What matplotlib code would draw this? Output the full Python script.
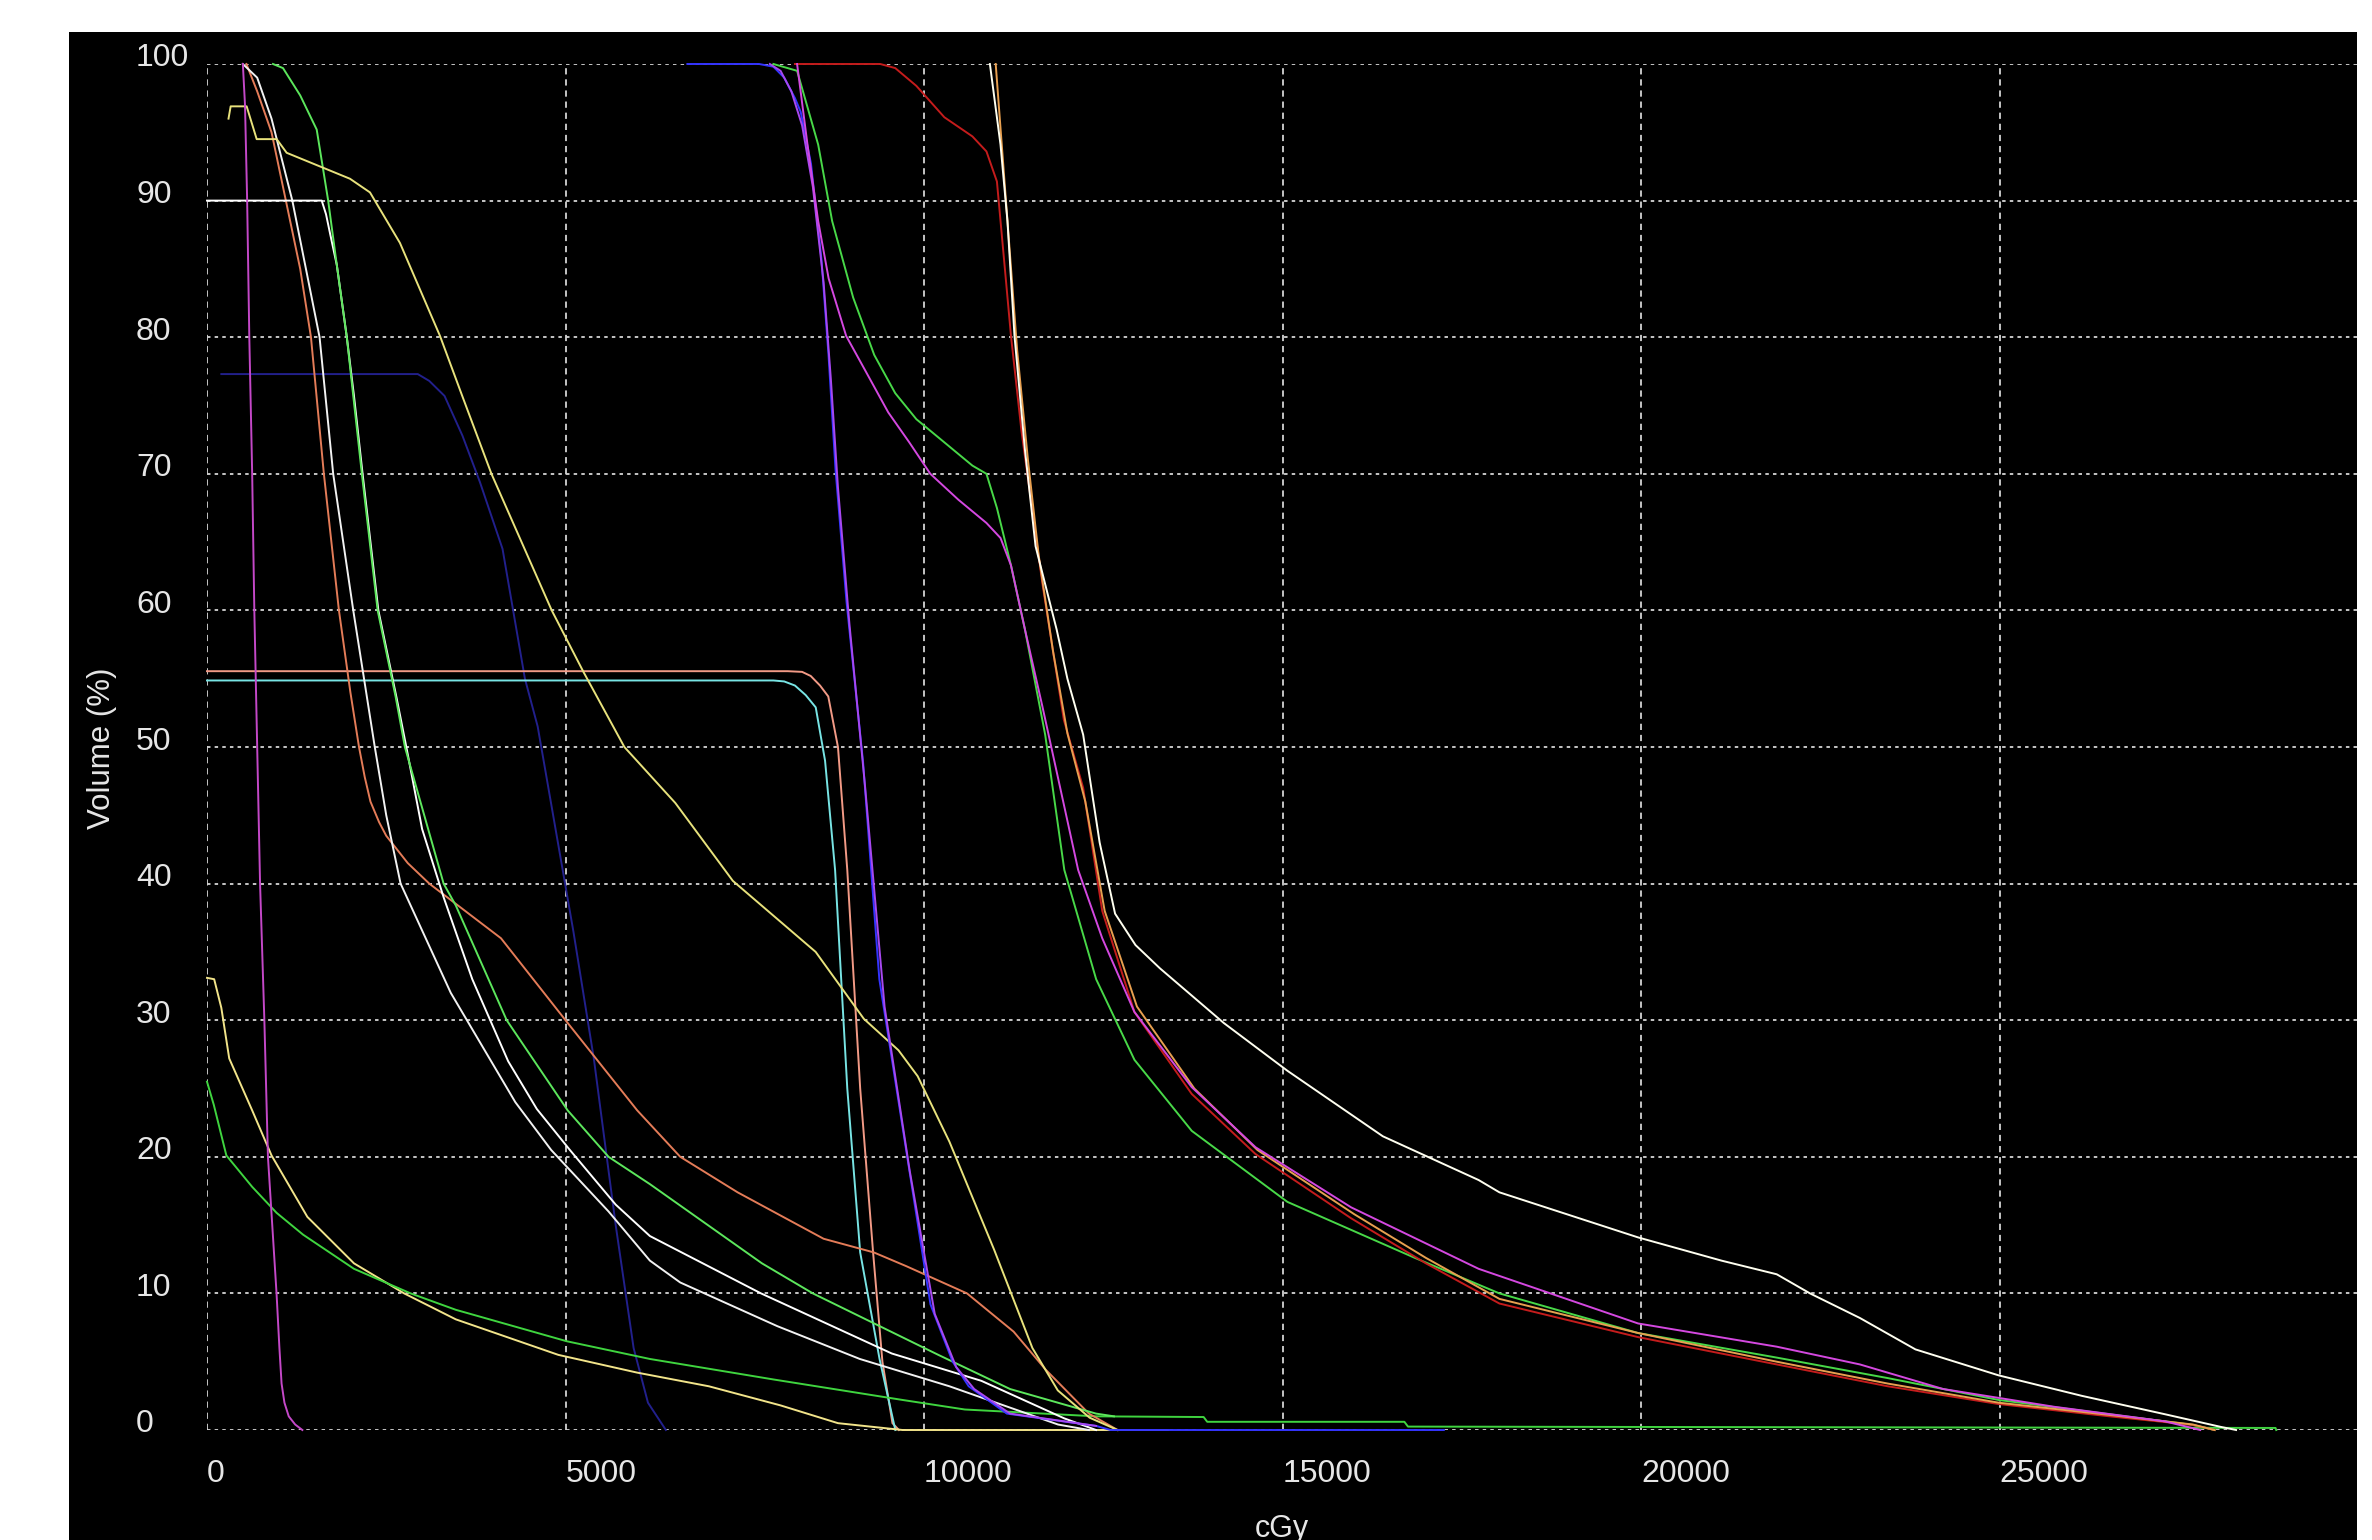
import matplotlib
matplotlib.use('Agg')
import matplotlib.pyplot as plt
import matplotlib.transforms as mtransforms
from matplotlib.patches import Rectangle

# ---- data (dose in cGy, volume in %) ----
x_ticks = [0, 5000, 10000, 15000, 20000, 25000]
x_tick_labels = ['0', '5000', '10000', '15000', '20000', '25000']
y_ticks = [0, 10, 20, 30, 40, 50, 60, 70, 80, 90, 100]
y_tick_labels = ['0', '10', '20', '30', '40', '50', '60', '70', '80', '90', '100']

# steep magenta near 0
mag_low_x = [500, 530, 560, 590, 630, 660, 700, 740, 800, 850, 910, 970, 1010, 1040, 1080, 1140, 1230, 1330]
mag_low_y = [100, 97, 90, 80, 70, 60, 50, 40, 30, 20, 15, 10, 6, 3.4, 2, 1, 0.4, 0]

# orange with knee at ~45 %
orange_x = [550, 700, 900, 1100, 1300, 1450, 1630, 1840, 2000, 2120, 2200, 2280, 2400, 2500, 2800, 3100, 3600, 4100,
            5000, 6000, 6600, 7400, 8600, 9300, 9750, 10600, 11250, 11700, 12300, 12700]
orange_y = [100, 98, 95, 90, 85, 80, 70, 60, 54, 50, 47.8, 46, 44.5, 43.5, 41.5, 40, 38, 36,
            30, 23.4, 20, 17.4, 14, 13, 12, 10, 7.2, 4.4, 1.2, 0]

# white from 100
white1_x = [500, 700, 900, 1190, 1570, 1760, 2040, 2340, 2500, 2700, 3400, 4300, 4800, 5600, 6177, 6600,
            7955, 9105, 10355, 11870, 12300]
white1_y = [100, 99, 96, 90, 80, 70, 60, 50, 45, 40, 32, 24, 20.5, 16, 12.4, 10.8,
            7.6, 5.2, 3.2, 0.4, 0]

# white with 90 % plateau
white2_x = [0, 1600, 1660, 1720, 1810, 1950, 2050, 2170, 2390, 2640, 2780, 3000, 3300, 3700, 4200, 4600,
            5061, 5700, 6177, 7727, 9551, 10800, 11957, 12400]
white2_y = [90, 90, 89, 87.5, 85.3, 80, 75.7, 70, 60, 53.7, 50, 44, 39, 33, 27, 23.5,
            20.5, 16.5, 14.2, 10, 5.6, 3.6, 0.85, 0]

# bright green from 100
green1_x = [920, 1060, 1300, 1530, 1690, 1810, 1950, 2040, 2160, 2380, 2630, 2760, 3300, 3470, 4180, 5030,
            5600, 6177, 7740, 8450, 10200, 11200, 12400, 12650]
green1_y = [100, 99.7, 97.7, 95.2, 90, 85.3, 80, 75.7, 70, 60, 53.7, 50, 40, 38.4, 30, 23.4,
            20, 18, 12.2, 10, 5.5, 3, 1.2, 1.0]

# long pale yellow
yellow1_x = [300, 330, 553, 693, 972, 1111, 1994, 2273, 2691, 3249, 3574, 3967, 4808, 5250, 5821, 6532,
             7334, 8489, 9161, 9644, 9912, 10355, 10978, 11512, 11866, 12310, 12700]
yellow1_y = [96.0, 96.9, 96.9, 94.5, 94.5, 93.5, 91.6, 90.6, 86.9, 80.1, 75.5, 70, 60, 55.5, 50, 45.9,
             40.2, 35, 30.1, 27.8, 25.9, 21.1, 13.2, 6, 2.9, 0.9, 0]

# dim navy with 77 % plateau
navy_x = [200, 2940, 3100, 3313, 3562, 3806, 4122, 4434, 4612, 5110, 5395, 5700, 5950, 6150, 6400]
navy_y = [77.3, 77.3, 76.8, 75.7, 72.8, 69.4, 64.5, 55, 51.5, 36.5, 27.2, 15, 6, 2, 0]

# salmon and cyan plateaus
salmon_x = [0, 8100, 8300, 8420, 8550, 8665, 8800, 8930, 9110, 9290, 9420, 9560, 9650]
salmon_y = [55.55, 55.55, 55.5, 55.2, 54.5, 53.7, 50, 41, 25, 13, 5, 0.5, 0]
cyan_x = [0, 7900, 8050, 8200, 8350, 8490, 8620, 8760, 8930, 9110, 9380, 9600]
cyan_y = [54.87, 54.87, 54.8, 54.5, 53.8, 52.9, 49, 41, 25, 13, 5.2, 0]

# low yellow and low green starting near 0 cGy
yellow2_x = [0, 100, 200, 310, 630, 900, 1400, 2050, 2750, 3470, 4900, 6000, 7000, 8000, 8800, 9700, 13400]
yellow2_y = [33.1, 33, 30.9, 27.2, 23.4, 20.1, 15.6, 12.2, 10, 8.1, 5.5, 4.2, 3.2, 1.8, 0.5, 0, 0]
green2_x = [0, 95, 270, 630, 970, 1340, 2050, 2840, 3470, 5015, 6177, 7900, 9700, 10570, 12400, 13900,
            13950, 16700, 16750, 28850, 28860]
green2_y = [25.5, 23.8, 20.1, 17.8, 15.9, 14.3, 11.8, 10, 8.8, 6.5, 5.2, 3.7, 2.2, 1.5, 1.0, 0.95,
            0.6, 0.6, 0.25, 0.15, 0]

# blue and violet steep pair
blue_x = [6700, 7700, 7900, 8050, 8200, 8280, 8424, 8570, 8668, 8766, 8920, 9150, 9377, 9733, 10090, 10400,
          10623, 11155, 12400, 12600, 17250]
blue_y = [100, 100, 99.8, 99, 97.5, 96.5, 92.7, 85.7, 78.7, 70.3, 60.6, 48.9, 33, 21.1, 9.2, 5,
          3.2, 1.2, 0.3, 0, 0]
violet_x = [7850, 8000, 8150, 8300, 8450, 8600, 8700, 8800, 8960, 9180, 9450, 9800, 10150, 10450, 10700, 11200, 12400]
violet_y = [100, 99.5, 98, 95.5, 91, 84, 77, 69, 59, 47, 31, 19, 8.5, 4.6, 3.0, 1.2, 0.3]

# high-dose group
green3_x = [7900, 8230, 8524, 8719, 9012, 9306, 9599, 9893, 10284, 10675, 10871, 11017, 11213, 11408, 11690,
            11957, 12401, 12935, 13734, 15068, 16846, 18025, 19959, 21893, 23441, 24988, 26536, 27698, 28000]
green3_y = [100, 99.5, 94.1, 88.5, 82.9, 78.7, 75.9, 74, 72.3, 70.6, 70, 67.5, 63.3, 58.6, 50.9,
            41, 33, 27.1, 21.9, 16.7, 12.6, 10.0, 7.1, 5.3, 3.8, 2.2, 1.15, 0.37, 0]
mag_high_x = [8230, 8375, 8524, 8670, 8914, 9208, 9501, 9795, 10088, 10480, 10871, 11067, 11213, 11408, 11650,
              11900, 12150, 12486, 12935, 13734, 14624, 15957, 17735, 19959, 21893, 23053, 24214, 25762, 27311, 27800]
mag_high_y = [100, 94.1, 88.5, 84.3, 80.1, 77.3, 74.5, 72.3, 70, 68.1, 66.4, 65.3, 63.3, 58.6, 53,
              47, 41, 36, 30.6, 25.1, 20.7, 16.3, 11.8, 7.8, 6.1, 4.8, 3.0, 1.7, 0.63, 0]
red_x = [8200, 9390, 9599, 9893, 10284, 10675, 10871, 11017, 11116, 11213, 11360, 11507, 11653, 11752, 11950,
         12220, 12486, 12935, 13734, 14624, 15957, 17000, 18025, 19959, 21893, 23441, 24988, 26536, 27698, 28000]
red_y = [100, 100, 99.7, 98.4, 96.1, 94.7, 93.6, 91.4, 85.7, 80.1, 73.1, 67.5, 61.9, 58.6, 52,
         47, 38, 30.6, 24.6, 20.2, 15.5, 12.2, 9.26, 6.8, 4.8, 3.2, 1.9, 1.0, 0.37, 0]
orange2_x = [11000, 11100, 11200, 11300, 11450, 11600, 11800, 12000, 12250, 12520, 12970, 13770, 14650, 16000,
             17000, 18025, 19959, 21893, 23441, 24988, 26536, 27698, 28000]
orange2_y = [100, 93, 86, 79, 71, 64, 57, 51, 46, 38, 31, 25, 20.5, 15.8,
             12.6, 9.6, 7.1, 5.0, 3.4, 2.0, 1.1, 0.4, 0]
white3_x = [10919, 11067, 11164, 11262, 11409, 11556, 11850, 12000, 12220, 12450, 12665, 12950, 13290, 14180,
            15068, 16400, 17735, 18025, 19959, 21122, 21893, 22357, 23053, 23828, 24988, 26149, 27311, 28084, 28300]
white3_y = [100, 94.1, 88.5, 80.1, 71.7, 64.7, 58.6, 55, 50.9, 43, 37.8, 35.5, 33.8, 29.8,
            26.3, 21.5, 18.3, 17.4, 14.1, 12.4, 11.4, 10, 8.2, 5.9, 4, 2.5, 1.15, 0.23, 0]

curves = [
    (navy_x, navy_y, '#22208c'),
    (salmon_x, salmon_y, '#f29a86'),
    (cyan_x, cyan_y, '#78e4e4'),
    (yellow2_x, yellow2_y, '#f2e48a'),
    (green2_x, green2_y, '#3fd43f'),
    (orange_x, orange_y, '#e47c58'),
    (white1_x, white1_y, '#f2f2f2'),
    (white2_x, white2_y, '#ffffff'),
    (green1_x, green1_y, '#5ce65c'),
    (yellow1_x, yellow1_y, '#e8e27c'),
    (mag_low_x, mag_low_y, '#c448c8'),
    (blue_x, blue_y, '#3434ff'),
    (violet_x, violet_y, '#a848f0'),
    (green3_x, green3_y, '#48d848'),
    (red_x, red_y, '#c41c1c'),
    (orange2_x, orange2_y, '#e8a050'),
    (mag_high_x, mag_high_y, '#d448e0'),
    (white3_x, white3_y, '#fffff0'),
]

W, H, DPI = 2372, 1540, 100
plt.rcParams['lines.scale_dashes'] = False
tick_font = ['Liberation Sans Narrow', 'Liberation Sans', 'DejaVu Sans']
txt_color = '#e6e6e6'
grid_color = '#d4d4d4'

fig = plt.figure(figsize=(W / DPI, H / DPI), dpi=DPI, facecolor='white')
# black panel of the planning system window
fig.patches.append(Rectangle((69 / W, 0), (2357 - 69) / W, (H - 32) / H,
                             transform=fig.transFigure, facecolor='black', edgecolor='none', zorder=-5))

ax = fig.add_axes([207 / W, 110 / H, 2151 / W, 1366 / H])
ax.set_zorder(2)
ax.patch.set_alpha(0)
for s in ax.spines.values():
    s.set_visible(False)

for xs, ys, c in curves:
    ax.plot(xs, ys, color=c, lw=1.4, clip_on=False, solid_joinstyle='round')

ax.set_xlim(0, 30000)
ax.set_ylim(0, 100)
ax.set_xticks(x_ticks)
ax.set_xticklabels(x_tick_labels)
ax.set_yticks(y_ticks)
ax.set_yticklabels(y_tick_labels)

ax.set_axisbelow(True)
ax.xaxis.grid(True, color=grid_color, lw=1.3, linestyle=(0, (4.5, 3.5)))
ax.yaxis.grid(True, color=grid_color, lw=1.3, linestyle=(0, (2.5, 3.0)))

ax.tick_params(axis='both', length=0, colors=txt_color)
ax.tick_params(axis='y', pad=71 * 0.72)
ax.tick_params(axis='x', pad=52 * 0.72)
down = mtransforms.ScaledTranslation(0, -2.5 / DPI, fig.dpi_scale_trans)
for lab in ax.get_yticklabels():
    lab.set_ha('left')
    lab.set_va('baseline')
    lab.set_family(tick_font)
    lab.set_fontsize(23)
    lab.set_transform(lab.get_transform() + down)
for lab in ax.get_xticklabels():
    lab.set_ha('left')
    lab.set_va('baseline')
    lab.set_family(tick_font)
    lab.set_fontsize(23)

fig.text(102 / W, 1 - 748 / H, 'Volume (%)', rotation=90, ha='center', va='center',
         color=txt_color, fontsize=22.5, family=['Liberation Sans', 'DejaVu Sans'], zorder=3)
fig.text(1282 / W, 1 - 1514 / H, 'cGy', ha='center', va='top',
         color=txt_color, fontsize=22, family=['Liberation Sans', 'DejaVu Sans'], zorder=3)

fig.savefig('out.png', dpi=DPI, facecolor='white')
